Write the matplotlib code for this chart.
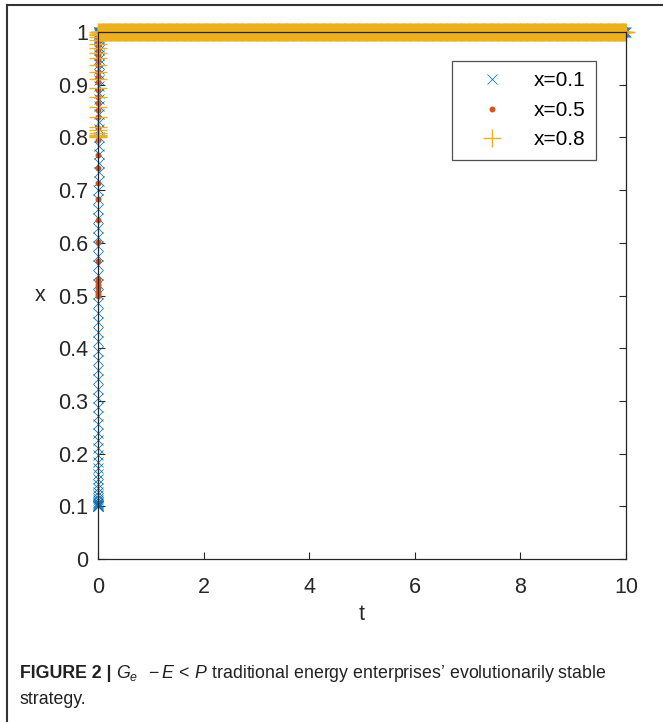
import numpy as np
import matplotlib
matplotlib.use("Agg")
import matplotlib.pyplot as plt
from matplotlib.lines import Line2D

plt.rcParams['font.family'] = ['Liberation Sans', 'DejaVu Sans']
plt.rcParams['mathtext.fontset'] = 'custom'
plt.rcParams['mathtext.rm'] = 'Liberation Sans'
plt.rcParams['mathtext.it'] = 'Liberation Sans:italic'

# ---------------- data ----------------
labels = ["x=0.1", "x=0.5", "x=0.8"]

# rising part (all within the first few hundredths of t)
t_rise_01 = [0.0000, 0.0002, 0.0004, 0.0006, 0.0008, 0.0010, 0.0012, 0.0014, 0.0016, 0.0018,
             0.0020, 0.0022, 0.0024, 0.0026, 0.0028, 0.0030, 0.0032, 0.0034, 0.0036, 0.0038,
             0.0040, 0.0042, 0.0044, 0.0046, 0.0048, 0.0050, 0.0052, 0.0054, 0.0056, 0.0058,
             0.0060, 0.0062, 0.0064, 0.0066, 0.0068, 0.0070, 0.0072, 0.0074, 0.0076, 0.0078,
             0.0080, 0.0082, 0.0084, 0.0086, 0.0088, 0.0090, 0.0092, 0.0094, 0.0096, 0.0098,
             0.0100, 0.0102, 0.0104, 0.0106, 0.0108, 0.0110, 0.0112, 0.0114, 0.0116, 0.0118,
             0.0120, 0.0122, 0.0124, 0.0126, 0.0128, 0.0130, 0.0132, 0.0134, 0.0136, 0.0138,
             0.0140, 0.0142, 0.0144, 0.0146, 0.0148, 0.0150]
x_rise_01 = [0.100, 0.1003, 0.1008, 0.1015, 0.1025, 0.104, 0.106, 0.109, 0.112, 0.116,
             0.121, 0.127, 0.134, 0.142, 0.151, 0.161, 0.172, 0.184, 0.197, 0.211,
             0.225, 0.240, 0.256, 0.272, 0.289, 0.306, 0.323, 0.341, 0.359, 0.377,
             0.395, 0.413, 0.431, 0.449, 0.467, 0.485, 0.503, 0.521, 0.539, 0.557,
             0.575, 0.593, 0.611, 0.629, 0.647, 0.665, 0.683, 0.700, 0.717, 0.734,
             0.751, 0.768, 0.784, 0.800, 0.815, 0.830, 0.845, 0.859, 0.872, 0.885,
             0.897, 0.909, 0.920, 0.930, 0.940, 0.949, 0.957, 0.965, 0.972, 0.978,
             0.984, 0.989, 0.993, 0.996, 0.998, 1.000]

t_rise_05 = [0.0000, 0.0003, 0.0006, 0.0009, 0.0012, 0.0015, 0.0018, 0.0021, 0.0024, 0.0027,
             0.0030, 0.0033, 0.0036, 0.0039, 0.0042, 0.0045, 0.0048, 0.0051, 0.0054, 0.0057,
             0.0060, 0.0063, 0.0066, 0.0069, 0.0072, 0.0075, 0.0078, 0.0081, 0.0084, 0.0087,
             0.0090, 0.0093, 0.0096, 0.0099]
x_rise_05 = [0.500, 0.503, 0.507, 0.514, 0.520, 0.526, 0.532, 0.565, 0.602, 0.643,
             0.684, 0.714, 0.741, 0.767, 0.796, 0.817, 0.838, 0.852, 0.865, 0.877,
             0.890, 0.905, 0.915, 0.924, 0.937, 0.947, 0.956, 0.966, 0.975, 0.983,
             0.989, 0.994, 0.997, 1.000]

t_rise_08 = [0.0000, 0.0003, 0.0006, 0.0009, 0.0012, 0.0015, 0.0018, 0.0021, 0.0024, 0.0027,
             0.0030, 0.0033, 0.0036, 0.0039, 0.0042, 0.0045, 0.0048, 0.0051, 0.0054, 0.0057,
             0.0060, 0.0063]
x_rise_08 = [0.800, 0.802, 0.805, 0.809, 0.814, 0.820, 0.838, 0.858, 0.876, 0.893,
             0.910, 0.925, 0.938, 0.950, 0.961, 0.970, 0.978, 0.985, 0.990, 0.994,
             0.997, 1.000]

# plateau: solver output times after convergence (value stays at 1 up to t = 10)
t_plateau = np.linspace(0.02, 10.0, 600)
x_plateau = 1.0

# ---------------- figure ----------------
W, H = 663, 722
fig = plt.figure(figsize=(W / 100, H / 100), dpi=100)
ax = fig.add_axes([98 / W, 1 - 559 / H, (626 - 98) / W, (559 - 32) / H])

blue, orange, yellow = "#0072BD", "#D95319", "#EDB120"

series = [
    (t_rise_01, x_rise_01, "x", blue, 7.5, 0.55),
    (t_rise_05, x_rise_05, ".", orange, 6.5, 1.0),
    (t_rise_08, x_rise_08, "+", yellow, 12.5, 1.0),
]
handles = []
for (tr, xr, mk, col, ms, mew), lab in zip(series, labels):
    t_all = np.concatenate([tr, t_plateau])
    x_all = np.concatenate([xr, np.full(len(t_plateau), x_plateau)])
    h, = ax.plot(t_all, x_all, linestyle="none", marker=mk, color=col,
                 markersize=ms, markeredgewidth=mew, clip_on=False, label=lab)
    handles.append(h)

ax.set_xlim(0, 10)
ax.set_ylim(0, 1)
ax.set_xticks([0, 2, 4, 6, 8, 10])
ax.set_xticklabels(["0", "2", "4", "6", "8", "10"])
ax.set_yticks(np.arange(0, 1.01, 0.1))
ax.set_yticklabels(["0", "0.1", "0.2", "0.3", "0.4", "0.5", "0.6", "0.7", "0.8", "0.9", "1"])

axis_col = "#262626"
for sp in ax.spines.values():
    sp.set_color(axis_col)
    sp.set_linewidth(0.9)
ax.tick_params(direction="in", length=5, width=0.8, color=axis_col,
               labelcolor=axis_col, labelsize=15.5, top=True, right=True)
ax.tick_params(axis="y", pad=7)
ax.tick_params(axis="x", pad=13)

ax.set_xlabel("t", fontsize=15.5, color=axis_col)
ax.set_ylabel("x", fontsize=15.5, color=axis_col, rotation=0, va="center", ha="center")
ax.xaxis.set_label_coords(0.5, -0.085)
ax.yaxis.set_label_coords(-0.11, 0.5)

leg = ax.legend(handles=handles, loc="upper right",
                bbox_to_anchor=((596 - 98) / 528, (559 - 61) / 527),
                fontsize=15, frameon=True, fancybox=False, borderaxespad=0,
                handlelength=2.9, handletextpad=0.55, borderpad=0.5,
                labelspacing=0.5)
leg.get_frame().set_edgecolor(axis_col)
leg.get_frame().set_linewidth(0.9)
for t in leg.get_texts():
    t.set_color("#000000")

# outer frame lines (left and top)
frame_col = "#333333"
fig.add_artist(Line2D([7 / W, 7 / W], [0, 1 - 5 / H], transform=fig.transFigure,
                      color=frame_col, lw=1.5))
fig.add_artist(Line2D([7 / W, 1], [1 - 5 / H, 1 - 5 / H], transform=fig.transFigure,
                      color=frame_col, lw=1.5))

# caption
cap_col = "#231F20"
cap_fs = 12.8
fig.canvas.draw()
r = fig.canvas.get_renderer()
t1 = fig.text(20 / W, 1 - 673 / H, "FIGURE 2 |", fontsize=cap_fs, fontweight="bold",
              color=cap_col, va="center", ha="left")
bb = t1.get_window_extent(renderer=r)
x_next = (bb.x1 + 4) / W
fig.text(x_next, 1 - 673 / H,
         r"$G_e\;\;-E\,<\,P$" + " traditional energy enterprises\u2019 evolutionarily stable",
         fontsize=cap_fs, color=cap_col, va="center", ha="left")
fig.text(20 / W, 1 - 700 / H, "strategy.", fontsize=cap_fs, color=cap_col,
         va="center", ha="left")

fig.savefig("out.png", dpi=100)
